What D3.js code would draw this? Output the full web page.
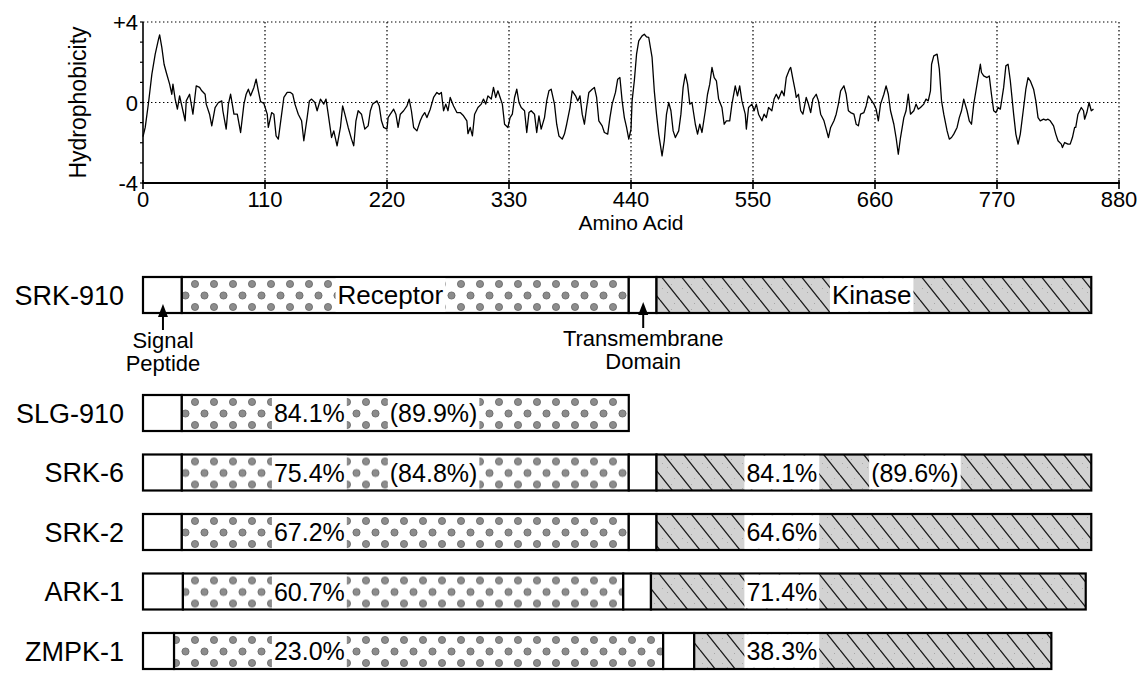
<!DOCTYPE html>
<html><head><meta charset="utf-8">
<script src="https://cdn.jsdelivr.net/npm/d3@7"></script>
<style>
body{margin:0;background:#fff}
svg{display:block}
text{font-family:"Liberation Sans",Arial,Helvetica,sans-serif;fill:#000}
</style>
</head><body>
<svg id="c" width="1141" height="673"></svg>
<script>
// ---------- DATA ----------
const aminoAcid = [
0,2,5,8,11,14,15,17,19,21,
24,26,27,29,31,33,36,38,39,42,
45,48,51,53,56,57,60,62,65,68,
71,72,75,77,79,82,85,88,91,93,
95,97,100,102,104,106,109,112,113,116,
118,120,122,125,127,130,133,135,137,140,
143,145,148,150,152,155,157,160,163,165,
167,170,172,175,178,180,182,185,188,190,
192,194,197,200,203,205,207,209,211,213,
215,217,220,221,223,226,228,230,232,235,
238,240,242,244,247,250,252,254,256,259,
262,265,267,269,271,273,275,277,280,283,
286,289,292,293,295,297,299,302,305,307,
309,311,314,316,318,320,322,324,326,329,
331,333,335,337,339,341,344,346,348,350,
353,355,357,359,362,364,366,368,371,373,
375,378,380,382,385,387,390,392,394,396,
398,400,402,405,407,409,411,414,416,419,
421,423,426,428,430,432,434,436,438,440,
441,443,445,447,450,452,454,456,459,461,
463,465,468,470,472,474,476,478,480,483,
485,487,489,491,493,495,498,500,502,504,
507,509,511,513,515,517,519,522,524,526,
529,531,534,536,538,540,543,544,546,549,
551,553,555,558,560,562,564,567,569,571,
573,576,578,580,583,584,586,588,589,591,
593,595,598,600,602,604,607,609,611,614,
616,618,620,623,625,627,629,632,634,636,
638,641,643,645,647,650,652,654,656,659,
661,663,665,668,670,672,674,677,679,681,
683,686,688,690,692,695,697,699,701,704,
706,708,710,711,713,716,718,720,722,725,
727,729,731,734,736,738,740,743,745,747,
749,751,753,755,756,758,761,763,765,767,
769,771,773,776,778,780,782,785,787,789,
791,794,796,798,800,803,805,807,809,812,
814,816,818,821,823,825,828,829,831,834,
836,838,840,841,843,846,848,849,851,853,
855,857];
const hydrophobicity = [
-1.7,-1.24,0,1.41,2.40,3.15,3.36,2.73,1.90,1.49,
0.91,0.41,0.91,0.17,-0.33,0.33,-0.41,-0.91,0.08,0.41,
-0.58,0.83,0.75,0.58,0.41,-0.08,-0.58,-1.16,-0.25,0,
0.08,-0.41,-1.32,-0.08,0.41,-0.58,-0.58,-1.49,-0.08,0.41,
0.66,0.33,0.75,1.16,0.58,0.05,-0.05,-0.58,-1.24,-0.50,
-0.58,-1.66,-1.82,-0.58,0.25,0.50,0.50,0.41,-0.08,-0.58,
-0.91,-1.90,-0.75,0.08,0.17,0,-0.41,0.17,-0.08,0.17,
-0.58,-1.74,-1.41,-2.15,-1.24,-0.17,-0.58,-1.24,-1.82,-2.15,
-0.91,-0.41,-0.58,-1.32,-1.16,-0.41,-0.08,0,0.08,-0.17,
-0.91,-1.24,-1.32,-0.75,-0.58,-0.33,-0.58,-1.24,-0.58,-0.41,
-0.17,0.17,-0.41,-1.24,-1.41,-0.91,-0.66,-0.50,-0.75,-0.33,
0.25,0.50,0.41,0.50,-0.41,-0.08,-0.41,0.25,-0.17,-0.50,
-0.50,-0.66,-0.91,-1.55,-1.24,-1.66,-0.58,-0.25,-0.08,0.17,
-0.08,0.33,0.17,0.75,0.25,0.58,0.25,-0.08,-1.08,-1.24,
-0.75,-0.58,0.25,0.66,0,-0.25,-0.41,-1.49,-0.50,-0.41,
-0.58,-1.49,-0.66,-1.32,-0.75,0.08,0.58,0.66,-0.08,-1.08,
-1.66,-1.82,-1.57,-1.08,-0.25,0.58,0.33,0.08,0.33,-0.58,
-1.08,-0.25,0.50,0.66,0.75,0.25,-0.91,-1.16,-1.49,-1.57,
-0.75,-0.08,0.50,1.16,1.24,0.08,-0.75,-1.24,-1.82,-1.32,
0.08,1.08,2.40,3.06,3.31,3.39,3.26,3.23,2.24,0.58,
-0.58,-1.57,-2.65,-1.90,-0.58,0,-0.41,-1.41,-1.74,-1.41,
-0.58,0.75,1.41,0.91,-0.08,0,-1.08,-1.57,-1.08,-1.49,
-0.41,0.41,0.91,1.74,1.24,1.08,0.17,-0.25,-1.08,-0.91,
-0.91,-0.08,0.83,0.33,0.83,0.08,-0.58,-1.32,-0.25,-0.08,
-0.41,-0.08,-0.58,-0.91,-0.58,-0.75,-0.25,-0.41,0.17,0.41,
0.17,0.58,0.33,1.24,1.66,1.74,1.16,0.60,0.25,0.41,
-0.41,-0.58,0.25,-0.08,-0.50,0.17,0.41,0.08,-0.58,-0.91,
-1.32,-1.74,-1.24,-0.91,-0.58,-0.08,0.58,0.83,0.41,-0.41,
-0.50,-0.58,-1.08,-1.16,-0.58,-0.50,-0.17,0.33,0.17,-0.08,
-0.33,-0.91,-0.08,0.41,0.83,0.41,-0.41,-1.08,-1.74,-2.57,
-1.74,-0.75,-0.41,0.41,-0.58,-0.41,-0.08,-0.33,-0.25,-0.08,
0.17,0.08,0.58,1.90,2.32,2.40,1.66,0.08,-0.58,-1.41,
-1.82,-1.74,-1.57,-1.24,-0.75,-0.41,0.17,-0.41,-0.91,-1.08,
-0.08,0.58,1.24,1.90,1.49,1.32,1.24,1.32,0.41,-0.41,
-0.50,-0.25,-0.33,0.75,1.82,1.90,1.08,-0.58,-1.57,-2.07,
-1.57,-0.25,0.66,1.24,1.08,0.66,0.08,-0.75,-0.91,-0.83,
-0.88,-0.83,-0.91,-1.16,-1.57,-1.90,-2.07,-2.24,-1.99,-2.07,
-2.07,-1.74,-1.24,-1.24,-0.58,-0.25,-0.41,-0.83,-0.50,0,
-0.41,-0.33];

const xTickValues = [0,110,220,330,440,550,660,770,880];
const yTickValues = [-4,0,4];
const yTickLabels = ["-4","0","+4"];

const proteins      = ["SRK-910","SLG-910","SRK-6","SRK-2","ARK-1","ZMPK-1"];
const signalEnd     = [35,35,35,35,36,28];
const receptorEnd   = [438,438,438,438,433,469];
const tmEnd         = [463,null,463,463,458,497];
const kinaseEnd     = [855,null,855,855,850,819];
const receptorIdentity   = ["Receptor","84.1%","75.4%","67.2%","60.7%","23.0%"];
const receptorSimilarity = [null,"(89.9%)","(84.8%)",null,null,null];
const kinaseIdentity     = ["Kinase",null,"84.1%","64.6%","71.4%","38.3%"];
const kinaseSimilarity   = [null,null,"(89.6%)",null,null,null];

// ---------- LAYOUT ----------
const svg = d3.select("#c");
const x = d3.scaleLinear().domain([0,880]).range([143,1119]);
const y = d3.scaleLinear().domain([-4,4]).range([183,22]);
const BAR_H = 36;
const rowTop = i => i === 0 ? 277 : 395 + (i-1)*59.5;

const defs = svg.append("defs");
const hatch = defs.append("pattern").attr("id","hatch")
  .attr("patternUnits","userSpaceOnUse").attr("width",20).attr("height",25);
hatch.append("rect").attr("width",20).attr("height",25).attr("fill","#d2d2d2");
[[3,4],[11,9],[7,17],[16,21],[2,13],[14,3]].forEach(([cx,cy])=>
  hatch.append("rect").attr("x",cx).attr("y",cy).attr("width",1).attr("height",1).attr("fill","#a8a8a8"));
hatch.append("path").attr("d","M-20,0L0,25M0,0L20,25M20,0L40,25")
  .attr("stroke","#1a1a1a").attr("stroke-width",1.3).attr("fill","none");

proteins.forEach((p,i)=>{
  const pat = defs.append("pattern").attr("id","dots"+i)
    .attr("patternUnits","userSpaceOnUse").attr("width",19).attr("height",23)
    .attr("patternTransform",`translate(0,${rowTop(i)})`);
  pat.append("rect").attr("width",19).attr("height",23).attr("fill","#fff");
  [[5,7],[14.5,18.5],[5,30],[14.5,-4.5]].forEach(([cx,cy])=>
    pat.append("circle").attr("cx",cx).attr("cy",cy).attr("r",3.6)
      .attr("fill","#8c8c8c").attr("stroke","#5a5a5a").attr("stroke-width",0.7));
});

// ---------- TOP PLOT ----------
const plotG = svg.append("g");
plotG.selectAll(".vg").data(xTickValues.filter(d=>d>0)).join("line")
  .attr("x1",d=>x(d)).attr("x2",d=>x(d)).attr("y1",y(4)).attr("y2",y(-4))
  .attr("stroke","#000").attr("stroke-width",1.2).attr("stroke-dasharray","1.4,2.6");
plotG.selectAll(".hg").data([0,4]).join("line")
  .attr("x1",x(0)).attr("x2",x(880)).attr("y1",d=>y(d)).attr("y2",d=>y(d))
  .attr("stroke","#000").attr("stroke-width",1.2).attr("stroke-dasharray","1.4,2.6");
plotG.append("line").attr("x1",x(0)).attr("x2",x(0)).attr("y1",y(4)).attr("y2",y(-4))
  .attr("stroke","#000").attr("stroke-width",1.6);
plotG.append("line").attr("x1",x(0)-1).attr("x2",x(880)+1).attr("y1",y(-4)).attr("y2",y(-4))
  .attr("stroke","#000").attr("stroke-width",2.2);
plotG.selectAll(".yt").data(d3.range(-4,5)).join("line")
  .attr("x1",x(0)-3).attr("x2",x(0)).attr("y1",d=>y(d)).attr("y2",d=>y(d))
  .attr("stroke","#000").attr("stroke-width",1.2);
plotG.selectAll(".xt").data(xTickValues).join("line")
  .attr("x1",d=>x(d)).attr("x2",d=>x(d)).attr("y1",y(-4)-3).attr("y2",y(-4)+6)
  .attr("stroke","#000").attr("stroke-width",1.6);
plotG.selectAll(".xl").data(xTickValues).join("text")
  .attr("x",d=>x(d)).attr("y",207).attr("text-anchor","middle")
  .attr("font-size",22).text(d=>d);
plotG.selectAll(".yl").data(yTickValues).join("text")
  .attr("x",x(0)-5).attr("y",d=>y(d)+8).attr("text-anchor","end")
  .attr("font-size",22).text((d,i)=>yTickLabels[i]);
plotG.append("text").attr("x",(x(0)+x(880))/2).attr("y",230).attr("text-anchor","middle")
  .attr("font-size",21).text("Amino Acid");
plotG.append("text").attr("transform",`translate(86,${(y(4)+y(-4))/2}) rotate(-90)`)
  .attr("text-anchor","middle").attr("font-size",23).text("Hydrophobicity");
const series = aminoAcid.map((a,i)=>[a,hydrophobicity[i]]);
plotG.append("path").datum(series)
  .attr("d",d3.line().x(d=>x(d[0])).y(d=>y(d[1])))
  .attr("fill","none").attr("stroke","#000").attr("stroke-width",1.3).attr("stroke-linejoin","round");

// ---------- DOMAIN BARS ----------
const bars = svg.append("g");
const receptorLabelX = [223,150,150,150,150,150];
const receptorSimX = 262;
const kinaseLabelX = [657,null,576,576,576,576];
const kinaseSimX = 696;

function label(g, text, cx, rowY, size){
  const t = g.append("text").attr("x",x(cx)).attr("y",rowY+BAR_H/2+size*0.36)
    .attr("text-anchor","middle").attr("font-size",size).text(text);
  const b = t.node().getBBox();
  g.insert("rect","text").attr("x",b.x-2).attr("y",rowY+1.2).attr("width",b.width+4)
    .attr("height",BAR_H-2.4).attr("fill","#fff");
}

proteins.forEach((p,i)=>{
  const t = rowTop(i);
  const g = bars.append("g");
  g.append("text").attr("x",124).attr("y",t+BAR_H/2+9.7).attr("text-anchor","end")
    .attr("font-size",27).text(p);
  const segs = [[0,signalEnd[i],"#fff"],[signalEnd[i],receptorEnd[i],`url(#dots${i})`]];
  if (tmEnd[i] != null) segs.push([receptorEnd[i],tmEnd[i],"#fff"]);
  if (kinaseEnd[i] != null) segs.push([tmEnd[i],kinaseEnd[i],"url(#hatch)"]);
  const sg = g.append("g");
  segs.forEach(([a,b,f])=>{
    sg.append("rect").attr("x",x(a)).attr("y",t).attr("width",x(b)-x(a)).attr("height",BAR_H)
      .attr("fill",f).attr("stroke","#000").attr("stroke-width",2.2);
  });
  const lg = g.append("g");
  const big = i===0 ? 26 : 25;
  if (receptorIdentity[i]) label(lg.append("g"), receptorIdentity[i], receptorLabelX[i], t, big);
  if (receptorSimilarity[i]) label(lg.append("g"), receptorSimilarity[i], receptorSimX, t, 25);
  if (kinaseIdentity[i]) label(lg.append("g"), kinaseIdentity[i], kinaseLabelX[i], t, big);
  if (kinaseSimilarity[i]) label(lg.append("g"), kinaseSimilarity[i], kinaseSimX, t, 25);
});

function arrow(cx, tip, text1, text2){
  const px = x(cx);
  bars.append("path").attr("d",`M${px},${tip}L${px-5},${tip+13}L${px+5},${tip+13}Z`).attr("fill","#000");
  bars.append("line").attr("x1",px).attr("x2",px).attr("y1",tip+10).attr("y2",tip+26)
    .attr("stroke","#000").attr("stroke-width",2);
  bars.append("text").attr("x",px).attr("y",tip+44).attr("text-anchor","middle").attr("font-size",22).text(text1);
  bars.append("text").attr("x",px).attr("y",tip+67).attr("text-anchor","middle").attr("font-size",22).text(text2);
}
arrow(18, 304, "Signal", "Peptide");
arrow(451, 302, "Transmembrane", "Domain");
</script>
</body></html>
